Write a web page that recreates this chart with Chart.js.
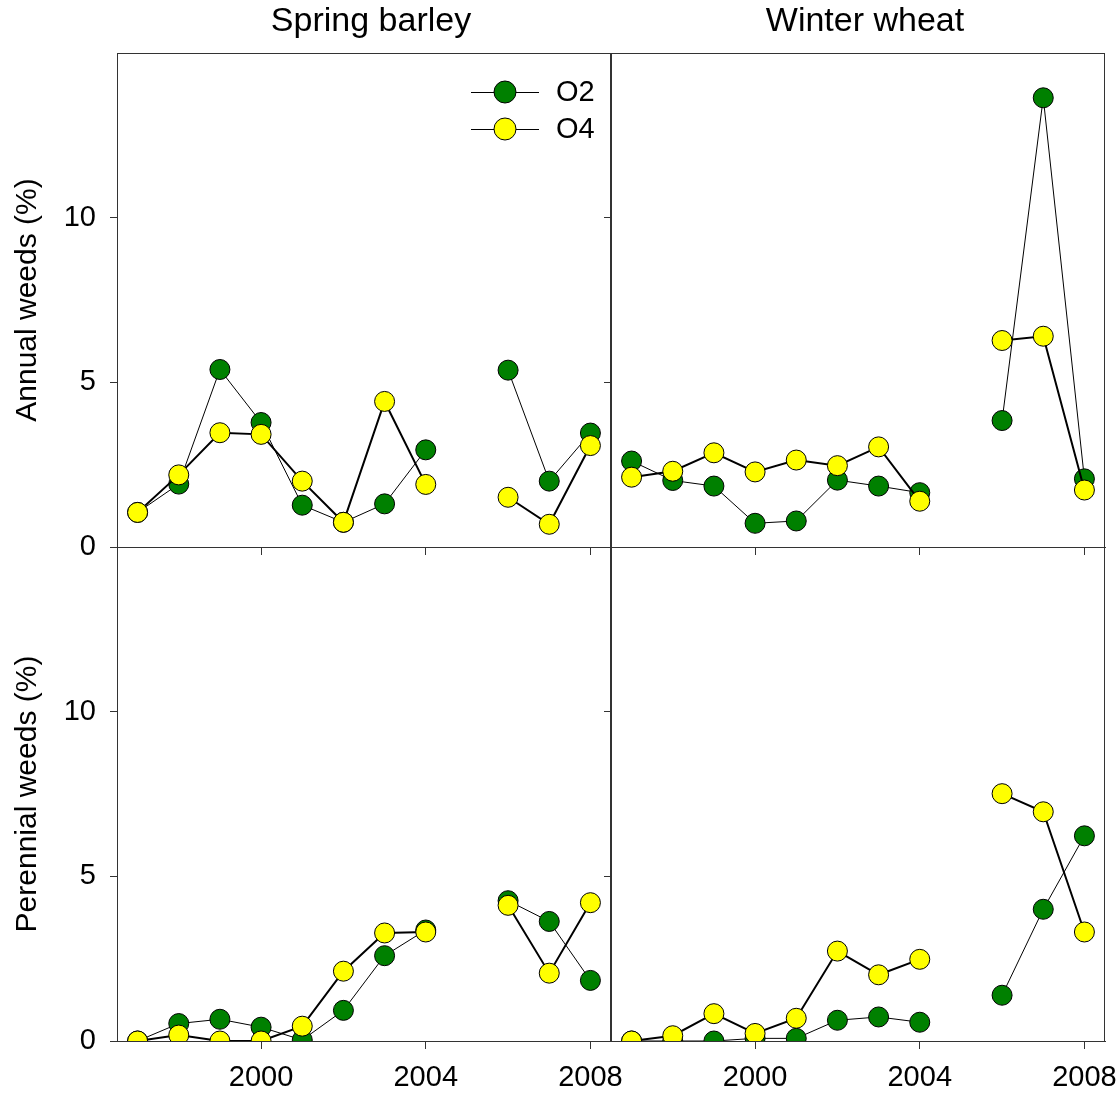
<html>
<head>
    <title>Annual and perennial weeds</title>
    <style>
        body { margin: 0; background: #fff; }
        #wrap { position: relative; width: 1120px; height: 1095px; }
        canvas { position: absolute; }
    </style>
</head>
<body>
    <div id="wrap">
        <canvas id="tl" width="651" height="577" style="left:0px; top:0px;"></canvas>
        <canvas id="tr" width="529" height="577" style="left:591px; top:0px;"></canvas>
        <canvas id="bl" width="651" height="558" style="left:0px; top:537px;"></canvas>
        <canvas id="br" width="529" height="558" style="left:591px; top:537px;"></canvas>
    </div>

    <script src="https://cdn.jsdelivr.net/npm/chart.js"></script>

<script>
    // years on the x axis, 2005 has no data (gap in the lines)
    const years = [1997, 1998, 1999, 2000, 2001, 2002, 2003, 2004, 2005, 2006, 2007, 2008];
    const xTicks = [2000, 2004, 2008];
    const yTicks = [0, 5, 10];
    const seriesNames = ['O2', 'O4'];
    const columnTitles = ['Spring barley', 'Winter wheat'];
    const rowTitles = ['Annual weeds (%)', 'Perennial weeds (%)'];

    // annual weeds (%)
    const barleyAnnualO2 = [1.05, 1.91, 5.39, 3.78, 1.27, 0.75, 1.31, 2.95, null, 5.37, 2.0, 3.46];
    const barleyAnnualO4 = [1.05, 2.19, 3.47, 3.42, 2.0, 0.75, 4.42, 1.9, null, 1.51, 0.69, 3.08];
    const wheatAnnualO2 = [2.61, 2.02, 1.85, 0.72, 0.79, 2.03, 1.85, 1.65, null, 3.84, 13.64, 2.07];
    const wheatAnnualO4 = [2.12, 2.3, 2.86, 2.28, 2.64, 2.47, 3.04, 1.39, null, 6.27, 6.4, 1.73];

    // perennial weeds (%)
    const barleyPerennialO2 = [0, 0.53, 0.66, 0.42, 0.03, 0.93, 2.59, 3.37, null, 4.26, 3.63, 1.84];
    const barleyPerennialO4 = [0, 0.18, 0, 0, 0.45, 2.12, 3.28, 3.31, null, 4.12, 2.06, 4.2];
    const wheatPerennialO2 = [0, 0, 0, 0.08, 0.08, 0.63, 0.73, 0.57, null, 1.39, 4.0, 6.23];
    const wheatPerennialO4 = [0, 0.16, 0.83, 0.23, 0.69, 2.73, 2.01, 2.48, null, 7.51, 6.96, 3.31];

    const FONT = 'Liberation Sans, Arial, sans-serif';
    const AXIS = '#333';

    function toPoints(vals) {
        return years.map((yr, i) => ({ x: yr, y: vals[i] }));
    }

    // panels have fixed positions, so drop the label overflow padding
    function noPadding(s) {
        s.paddingTop = 0;
        s.paddingBottom = 0;
        s.paddingLeft = 0;
        s.paddingRight = 0;
    }

    // box around the plot area
    const framePlugin = {
        id: 'frame',
        afterLayout(chart) {
            // column titles sit a little right of the panel centre
            if (chart.titleBlock) {
                chart.titleBlock.left += 7;
                chart.titleBlock.right += 7;
            }
        },
        beforeDatasetsDraw(chart) {
            const a = chart.chartArea;
            const ctx = chart.ctx;
            ctx.save();
            ctx.strokeStyle = AXIS;
            ctx.lineWidth = 1;
            ctx.strokeRect(Math.round(a.left) + 0.5, Math.round(a.top) + 0.5,
                Math.round(a.right - a.left) - 1, Math.round(a.bottom - a.top));
            ctx.restore();
        }
    };

    // legend inside the plot: short line with a marker, then the name
    const legendPlugin = {
        id: 'lineLegend',
        afterDraw(chart) {
            const a = chart.chartArea;
            const ctx = chart.ctx;
            ctx.save();
            chart.data.datasets.forEach((ds, i) => {
                const y = a.top + 39 + i * 37;
                const x0 = a.right - 140, x1 = a.right - 72, cx = a.right - 106;
                ctx.strokeStyle = '#000';
                ctx.lineWidth = 1;
                ctx.beginPath();
                ctx.moveTo(x0, y + 0.5);
                ctx.lineTo(x1, y + 0.5);
                ctx.stroke();
                ctx.beginPath();
                ctx.arc(cx, y, 11, 0, Math.PI * 2);
                ctx.fillStyle = ds.backgroundColor;
                ctx.fill();
                ctx.stroke();
                ctx.fillStyle = '#000';
                ctx.font = '29px ' + FONT;
                ctx.textBaseline = 'middle';
                ctx.fillText(ds.label, a.right - 55, y + 1);
            });
            ctx.restore();
        }
    };

    function makeChart(id, o2, o4, opt) {
        const ctx = document.getElementById(id).getContext('2d');
        const plugins = [framePlugin];
        if (opt.legend) plugins.push(legendPlugin);

        return new Chart(ctx, {
            type: 'line',
            data: {
                datasets: [{
                    label: seriesNames[0],
                    data: toPoints(o2),
                    borderColor: '#000',
                    borderWidth: 1,
                    backgroundColor: '#008000',
                    pointBackgroundColor: '#008000',
                    pointBorderColor: '#000',
                    pointBorderWidth: 1,
                    pointRadius: 10,
                    order: 2
                }, {
                    label: seriesNames[1],
                    data: toPoints(o4),
                    borderColor: '#000',
                    borderWidth: 2,
                    backgroundColor: '#ffff00',
                    pointBackgroundColor: '#ffff00',
                    pointBorderColor: '#000',
                    pointBorderWidth: 1,
                    pointRadius: 10,
                    order: 1
                }]
            },
            plugins: plugins,
            options: {
                responsive: false,
                animation: false,
                devicePixelRatio: 1,
                spanGaps: false,
                layout: { padding: opt.padding, autoPadding: false },
                plugins: {
                    legend: { display: false },
                    tooltip: { enabled: false },
                    title: {
                        display: !!opt.title,
                        text: opt.title || '',
                        fullSize: false,
                        color: '#000',
                        font: { family: FONT, size: 34, weight: 'normal', lineHeight: 1.2 },
                        padding: { top: 1.6, bottom: 10.6 }
                    }
                },
                scales: {
                    x: {
                        type: 'linear',
                        min: 1996.5,
                        max: 2008.5,
                        afterBuildTicks: s => { s.ticks = xTicks.map(v => ({ value: v })); },
                        afterFit: s => { s.height = opt.xHeight; noPadding(s); },
                        ticks: {
                            display: opt.showX,
                            color: '#000',
                            padding: 12,
                            maxRotation: 0,
                            font: { family: FONT, size: 29 },
                            callback: v => String(v)
                        },
                        grid: { drawOnChartArea: false, tickLength: 8, color: AXIS },
                        border: { display: true, color: AXIS }
                    },
                    y: {
                        min: 0,
                        max: 15,
                        afterBuildTicks: s => { s.ticks = yTicks.map(v => ({ value: v })); },
                        afterFit: s => { s.width = opt.yWidth; noPadding(s); },
                        ticks: {
                            display: opt.showY,
                            color: '#000',
                            padding: 14,
                            font: { family: FONT, size: 29 }
                        },
                        grid: { drawOnChartArea: false, tickLength: 7, color: AXIS },
                        border: { display: true, color: AXIS },
                        title: {
                            display: !!opt.yTitle,
                            text: opt.yTitle || '',
                            color: '#000',
                            font: { family: FONT, size: 30, lineHeight: 1.2 },
                            padding: { top: 10, bottom: 0 }
                        }
                    }
                }
            }
        });
    }

    makeChart('tl', barleyAnnualO2, barleyAnnualO4, {
        title: columnTitles[0], yTitle: rowTitles[0], legend: true,
        showX: false, showY: true, yWidth: 117, xHeight: 30,
        padding: { top: 0, right: 40, bottom: 0, left: 0 }
    });
    makeChart('tr', wheatAnnualO2, wheatAnnualO4, {
        title: columnTitles[1],
        showX: false, showY: false, yWidth: 20, xHeight: 30,
        padding: { top: 0, right: 15, bottom: 0, left: 0 }
    });
    makeChart('bl', barleyPerennialO2, barleyPerennialO4, {
        yTitle: rowTitles[1],
        showX: true, showY: true, yWidth: 117, xHeight: 54,
        padding: { top: 10, right: 40, bottom: 0, left: 0 }
    });
    makeChart('br', wheatPerennialO2, wheatPerennialO4, {
        showX: true, showY: false, yWidth: 20, xHeight: 54,
        padding: { top: 10, right: 15, bottom: 0, left: 0 }
    });
</script>
</body>
</html>
